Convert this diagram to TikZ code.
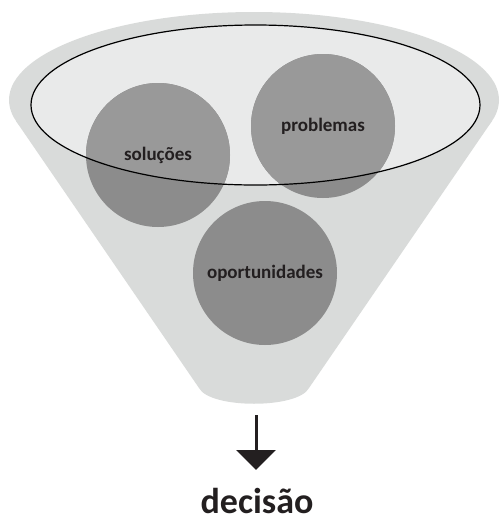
\documentclass[tikz,border=0pt]{standalone}
\usepackage{fontspec}
\setmainfont{Carlito}
\usetikzlibrary{arrows.meta}
\definecolor{funnelgray}{HTML}{D9DBDA}
\definecolor{ellgray}{HTML}{E9EAEA}
\definecolor{circdark}{HTML}{8C8C8C}
\definecolor{circlight}{HTML}{999999}
\definecolor{txt}{HTML}{231F20}
\tikzset{
  funnel/.style={fill=funnelgray},
  blob/.style={circle, minimum size=144pt, inner sep=0pt, text=txt, font=\bfseries\fontsize{19}{19}\selectfont},
  bigword/.style={inner sep=0pt, text=txt, font=\bfseries\fontsize{36}{36}\selectfont},
  ellline/.style={draw=black, line width=1.2pt},
  arrowline/.style={draw=txt, line width=3pt, -{Triangle[width=39pt,length=20pt]}}
}
\begin{document}
\begin{tikzpicture}[x=1pt,y=-1pt]
\useasboundingbox (0,0) rectangle (499,523);
% funnel body
\fill[funnel] (254,100) ellipse [x radius=245, y radius=88];
\fill[funnel] (16,121) -- (199,388) .. controls (210,409) and (298,409) .. (309,388) -- (492,121) -- cycle;
% inner ellipse fill
\fill[ellgray] (255.5,105) ellipse [x radius=224.5, y radius=80];
% circle centres
\coordinate (csol) at (158,155);
\coordinate (cpro) at (323,126);
\coordinate (copo) at (265,273);
\fill[circdark] (csol) circle [radius=72];
\fill[circdark] (cpro) circle [radius=72];
\fill[circdark] (copo) circle [radius=72];
\begin{scope}
  \clip (255.5,105) ellipse [x radius=224.5, y radius=80];
  \fill[circlight] (csol) circle [radius=72];
  \fill[circlight] (cpro) circle [radius=72];
\end{scope}
\draw[ellline] (255.5,105) ellipse [x radius=224.5, y radius=80];
% labels
\node[blob] (sol) at (csol) {soluções};
\node[blob] (pro) at (cpro) {problemas};
\node[blob] (opo) at (copo) {oportunidades};
% arrow and decision
\coordinate (atop) at (256,415);
\coordinate (atip) at (256,470);
\draw[arrowline] (atop) -- (atip);
\node[bigword, anchor=base] (dec) at (257,513) {decisão};
\end{tikzpicture}
\end{document}
